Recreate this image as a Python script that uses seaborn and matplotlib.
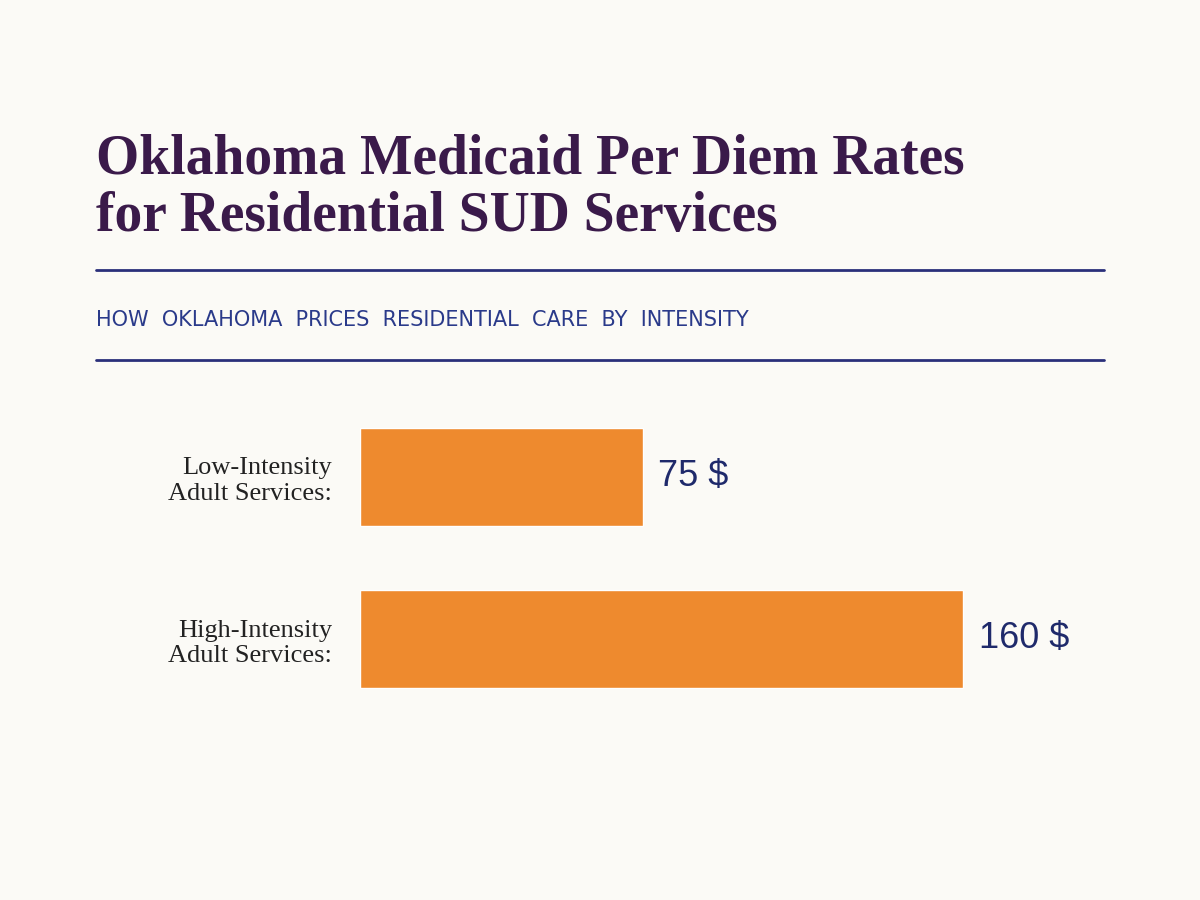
import matplotlib
matplotlib.use("Agg")
import matplotlib.pyplot as plt
import seaborn as sns
import pandas as pd

categories = ["Low-Intensity\nAdult Services:", "High-Intensity\nAdult Services:"]
values = [75, 160]
value_labels = ["75 $", "160 $"]
title = "Oklahoma Medicaid Per Diem Rates\nfor Residential SUD Services"
subtitle = "HOW OKLAHOMA PRICES RESIDENTIAL CARE BY INTENSITY"

sns.set_theme(style="white")
plt.rcParams['font.family'] = ['DejaVu Sans']

df = pd.DataFrame({"cat": categories, "val": values})
fig = plt.figure(figsize=(12, 9), dpi=100)
fig.patch.set_facecolor("#FBFAF6")
ax = fig.add_axes([0.30, 0.20, 0.55, 0.36])
ax.set_facecolor("#FBFAF6")
sns.barplot(data=df, y="cat", x="val", orient="h", color="#EE8A2E", width=0.6,
            saturation=1, ax=ax)
ax.set_xlim(0, 175)
ax.set_xlabel(""); ax.set_ylabel("")
ax.set_xticks([])
ax.tick_params(axis="y", length=0, pad=20)
for lab in ax.get_yticklabels():
    lab.set_fontfamily("Liberation Serif"); lab.set_fontsize(19); lab.set_color("#222222")
    lab.set_horizontalalignment("right")
for s in ax.spines.values():
    s.set_visible(False)
for i, (v, t) in enumerate(zip(values, value_labels)):
    ax.text(v + 4, i, t, va="center", ha="left", fontsize=26, color="#1F2A6B",
            fontfamily="Liberation Sans")

fig.text(0.08, 0.73, title, fontsize=40, fontweight="bold", color="#3A1A4A",
         fontfamily="Liberation Serif", va="bottom", linespacing=1.15)
fig.add_artist(plt.Line2D([0.08, 0.92], [0.70, 0.70], color="#2A2F7A", lw=2))
fig.text(0.08, 0.645, "  ".join(subtitle.split(" ")), fontsize=15, color="#2A3A8A",
         fontfamily="DejaVu Sans", va="center")
fig.add_artist(plt.Line2D([0.08, 0.92], [0.60, 0.60], color="#2A2F7A", lw=2))

fig.savefig("out.png", dpi=100, facecolor=fig.get_facecolor())
